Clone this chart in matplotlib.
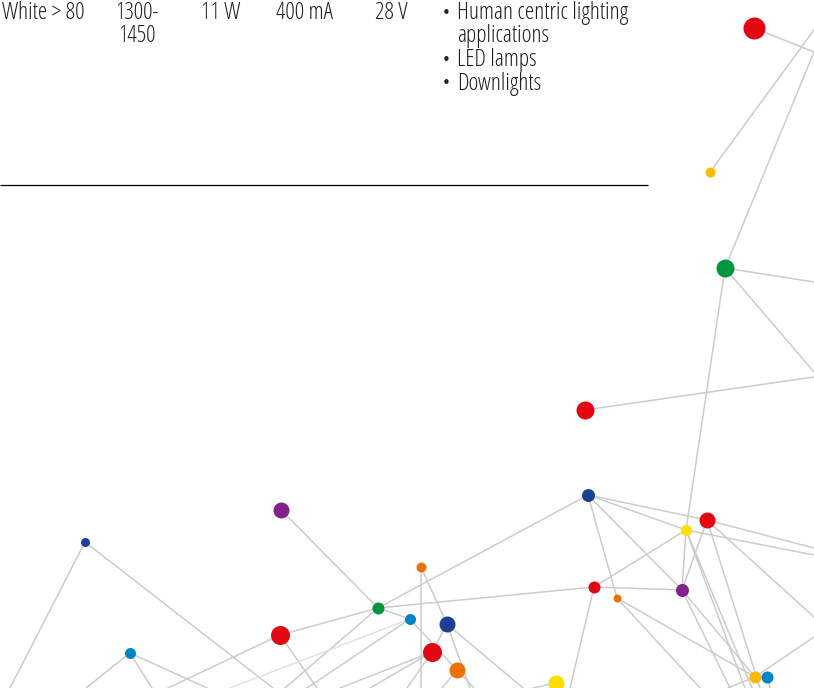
import matplotlib
matplotlib.use("Agg")
import matplotlib.pyplot as plt

# %%
# Table fragment (text above the rule)
row_cells = ["White > 80", "1300-", "11 W", "400 mA", "28 V"]
cell_x = [84, 137, 221, 305, 391]
cell_align = ["right", "center", "center", "center", "center"]
second_line = [("1450", 137)]
applications = ["Human centric lighting", "applications", "LED lamps", "Downlights"]
bullet_rows = [0, 2, 3]

# %%
# Network nodes (pixel positions, radius in px, colour)
RED, GREEN, PURPLE = "#e30613", "#009640", "#82218b"
NAVY, BLUE, ORANGE = "#1b4194", "#0083c9", "#ee7203"
YELLOW, AMBER = "#ffde00", "#fbb900"

node_x = [754, 710, 725, 585, 281, 85, 588, 707, 686, 421, 594, 617, 682,
          378, 410, 447, 280, 130, 432, 457, 556, 755, 767]
node_y = [28, 172, 268, 410, 510, 542, 495, 520, 530, 567, 587, 598, 590,
          608, 619, 624, 635, 653, 652, 670, 683, 677, 677]
node_r = [11, 5, 9, 9, 8, 4.5, 6.5, 8, 5.5, 5, 6, 4, 6.5,
          6, 5.5, 8, 9.5, 5.5, 9.5, 8, 8, 6, 6]
node_c = [RED, AMBER, GREEN, RED, PURPLE, NAVY, NAVY, RED, YELLOW, ORANGE,
          RED, ORANGE, PURPLE, GREEN, BLUE, NAVY, RED, BLUE, RED, ORANGE,
          YELLOW, AMBER, BLUE]

# links that leave the picture: (node, edge point)
out_links = [
    (0, (814, 52)), (2, (814, 52)), (1, (814, 30)), (2, (814, 282)),
    (2, (814, 372)), (3, (814, 377)), (5, (10, 688)), (5, (273, 688)),
    (17, (86, 688)), (17, (152, 688)), (17, (207, 688)), (16, (168, 688)),
    (16, (317, 688)), (13, (285, 688)), (14, (307, 688)), (9, (421, 688)),
    (15, (470, 688)), (15, (523, 688)), (19, (474, 688)), (19, (442, 688)),
    (18, (340, 688)), (18, (370, 688)), (18, (407, 688)), (20, (533, 688)),
    (10, (570, 688)), (7, (814, 548)), (8, (814, 555)), (7, (814, 617)),
    (21, (814, 637)), (11, (700, 688)), (21, (728, 688)), (22, (770, 688)),
    (8, (745, 688)), (8, (752, 688)), (7, (760, 688)), (12, (730, 688)),
]
faint_links = [(14, (230, 688))]

# links between nodes
links = [(13, 4), (13, 16), (13, 14), (13, 10), (13, 6), (9, 15), (15, 18),
         (14, 19), (6, 7), (6, 8), (6, 11), (6, 12), (8, 10), (8, 12),
         (7, 12), (10, 12), (12, 21), (11, 21), (2, 8)]

# %%
fig = plt.figure(figsize=(8.14, 6.88), dpi=100)
ax = fig.add_axes([0, 0, 1, 1])
ax.set_xlim(0, 814)
ax.set_ylim(688, 0)
ax.axis("off")

tstyle = dict(va="baseline", fontsize=17, color="#231f20",
              family=["Open Sans", "DejaVu Sans"], fontstretch="condensed",
              fontweight=300)
base, line_h = 19, 23.5

for txt, x, ha in zip(row_cells, cell_x, cell_align):
    ax.text(x, base, txt, ha=ha, **tstyle)
for txt, x in second_line:
    ax.text(x, base + line_h, txt, ha="center", **tstyle)

for row, txt in enumerate(applications):
    y = base + row * line_h
    if row in bullet_rows:
        ax.text(446, y - 1, "•", ha="center", va="baseline", fontsize=11,
                color="#231f20", family=["DejaVu Sans"])
    ax.text(457, y, txt, ha="left", **tstyle)

ax.plot([0, 648], [185, 185], color="black", lw=0.9, solid_capstyle="butt")

# edges
for a, (ex, ey) in out_links:
    ax.plot([node_x[a], ex], [node_y[a], ey], color="#cccccc", lw=1.1, zorder=1)
for a, (ex, ey) in faint_links:
    ax.plot([node_x[a], ex], [node_y[a], ey], color="#e2e2e2", lw=1.1, zorder=1)
for a, b in links:
    ax.plot([node_x[a], node_x[b]], [node_y[a], node_y[b]],
            color="#cccccc", lw=1.1, zorder=1)

# nodes
for x, y, r, c in zip(node_x, node_y, node_r, node_c):
    ax.plot(x, y, "o", ms=2 * r * 0.72, color=c, mec="none", zorder=3)

fig.savefig("out.png", dpi=100)
